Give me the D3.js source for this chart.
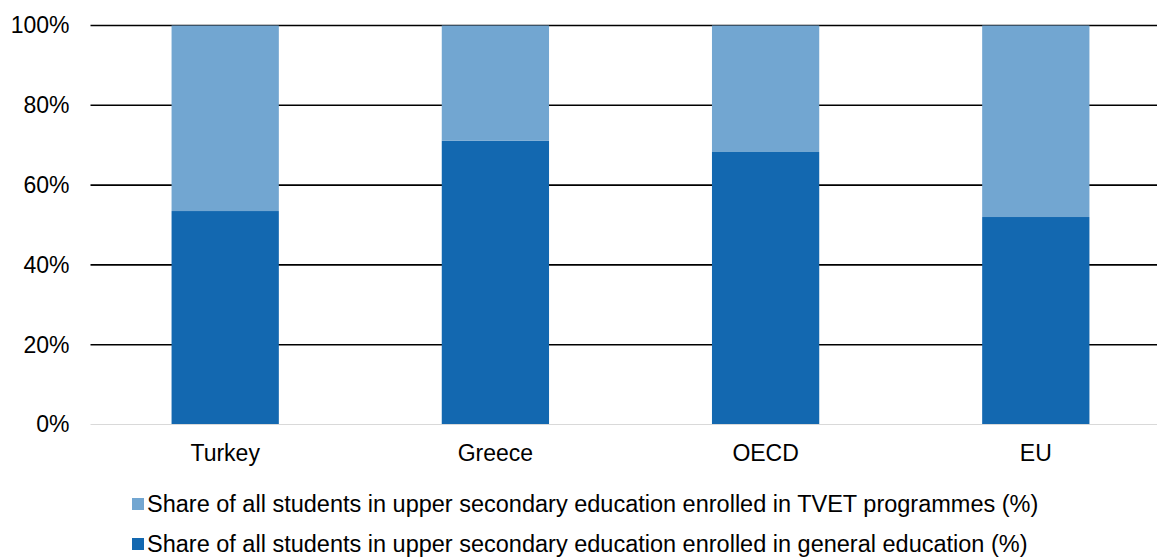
<!DOCTYPE html>
<html>
<head>
<meta charset="utf-8">
<script src="https://cdn.jsdelivr.net/npm/d3@7"></script>
<style>
  html, body { margin: 0; padding: 0; background: #fff; }
  svg { display: block; font-family: "Liberation Sans", Arial, sans-serif; }
</style>
</head>
<body>
<svg id="chart" width="1157" height="559"></svg>
<script>
// Categories and the share (%) of upper secondary students in general education
const categories = ["Turkey", "Greece", "OECD", "EU"];
const generalShare = [53.5, 71.1, 68.3, 52.0];
const tvetShare = generalShare.map(v => 100 - v);
const yTicks = [0, 20, 40, 60, 80, 100];
const seriesNames = [
  "Share of all students in upper secondary education enrolled in TVET programmes (%)",
  "Share of all students in upper secondary education enrolled in general education (%)"
];
const colors = { general: "#1368B0", tvet: "#72A6D1" };

const svg = d3.select("#chart");
const plot = { left: 90.5, right: 1170.5, top: 25.5, bottom: 424.5 };
const fontSize = 23;

const x = d3.scaleBand()
  .domain(categories)
  .range([plot.left, plot.right])
  .paddingInner(0.603)
  .paddingOuter(0.3);

const y = d3.scaleLinear().domain([0, 100]).range([plot.bottom, plot.top]);

// Horizontal gridlines (the zero line is drawn separately in grey)
svg.append("g")
  .selectAll("line")
  .data(yTicks.filter(t => t > 0))
  .join("line")
  .attr("x1", plot.left)
  .attr("x2", plot.right)
  .attr("y1", d => y(d))
  .attr("y2", d => y(d))
  .attr("stroke", "#000")
  .attr("stroke-width", 1.6);

// Stacked data
const rows = categories.map((c, i) => ({ cat: c, general: generalShare[i], tvet: tvetShare[i] }));
const stack = d3.stack().keys(["general", "tvet"])(rows);

svg.append("g")
  .selectAll("g")
  .data(stack)
  .join("g")
  .attr("fill", d => colors[d.key])
  .selectAll("rect")
  .data(d => d)
  .join("rect")
  .attr("x", d => x(d.data.cat))
  .attr("width", x.bandwidth())
  .attr("y", d => y(d[1]))
  .attr("height", d => y(d[0]) - y(d[1]));

// Zero baseline
svg.append("line")
  .attr("x1", plot.left)
  .attr("x2", plot.right)
  .attr("y1", y(0))
  .attr("y2", y(0))
  .attr("stroke", "#d9d9d9")
  .attr("stroke-width", 1.2);

// Y axis labels
const yAxis = d3.axisLeft(y)
  .tickValues(yTicks)
  .tickFormat(d => d + "%")
  .tickSize(0)
  .tickPadding(21);
svg.append("g")
  .attr("transform", `translate(${plot.left},0)`)
  .call(yAxis)
  .call(g => g.select(".domain").remove())
  .call(g => g.selectAll("text")
    .attr("font-size", fontSize)
    .attr("font-family", "Liberation Sans, Arial, sans-serif")
    .attr("fill", "#000"));

// X axis labels
const xAxis = d3.axisBottom(x).tickSize(0).tickPadding(20);
svg.append("g")
  .attr("transform", `translate(0,${plot.bottom})`)
  .call(xAxis)
  .call(g => g.select(".domain").remove())
  .call(g => g.selectAll("text")
    .attr("font-size", fontSize)
    .attr("font-family", "Liberation Sans, Arial, sans-serif")
    .attr("fill", "#000"));

// Legend
const legend = svg.append("g").attr("transform", "translate(132,0)");
const legendItems = [
  { name: seriesNames[0], color: colors.tvet, y: 504 },
  { name: seriesNames[1], color: colors.general, y: 544 }
];
const li = legend.selectAll("g")
  .data(legendItems)
  .join("g")
  .attr("transform", d => `translate(0,${d.y})`);
li.append("rect")
  .attr("x", 0)
  .attr("y", -6)
  .attr("width", 12)
  .attr("height", 12)
  .attr("fill", d => d.color);
li.append("text")
  .attr("x", 15)
  .attr("y", 0)
  .attr("dy", "0.35em")
  .attr("font-size", 23.5)
  .attr("fill", "#000")
  .text(d => d.name);
</script>
</body>
</html>
